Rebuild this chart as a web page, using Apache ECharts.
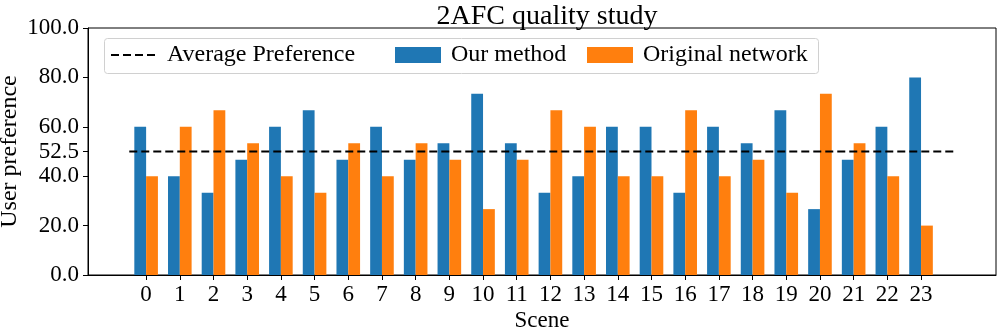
<!DOCTYPE html>
<html>
<head>
<meta charset="utf-8">
<script src="https://cdn.jsdelivr.net/npm/echarts@6/dist/echarts.min.js"></script>
<style>
  html, body { margin: 0; padding: 0; background: #fff; }
  #chart { width: 997px; height: 329px; }
</style>
</head>
<body>
<div id="chart"></div>
<script>
// 15 participants per scene, so shares come in steps of 1/15
const scenes = [0, 1, 2, 3, 4, 5, 6, 7, 8, 9, 10, 11, 12, 13, 14, 15, 16, 17, 18, 19, 20, 21, 22, 23];
const ourMethod = [60, 40, 33.33, 46.67, 60, 66.67, 46.67, 60, 46.67, 53.33, 73.33, 53.33,
  33.33, 40, 60, 60, 33.33, 60, 53.33, 66.67, 26.67, 46.67, 60, 80];
const originalNetwork = [40, 60, 66.67, 53.33, 40, 33.33, 53.33, 40, 53.33, 46.67, 26.67, 46.67,
  66.67, 60, 40, 40, 66.67, 40, 46.67, 33.33, 73.33, 53.33, 40, 20];
// the dashed line and its "52.5" tick sit at 50 in the original plot
const averageLine = 50;
const averageSpan = [-0.5, 24];
const yTicks = [0, 20, 40, 50, 60, 80, 100];
const yTickLabels = ['0.0', '20.0', '40.0', '52.5', '60.0', '80.0', '100.0'];

const font = 'Liberation Serif';
const chart = echarts.init(document.getElementById('chart'));

// matplotlib spaces its legend columns unevenly, so one legend per entry
const legendBase = {
  top: 43,
  padding: 0,
  z: 6,
  itemWidth: 46,
  itemHeight: 16,
  textStyle: { fontFamily: font, fontSize: 24, color: '#000', padding: [0, 0, 0, 5] },
};

chart.setOption({
  animation: false,
  textStyle: { fontFamily: font },
  title: {
    text: '2AFC quality study',
    left: 542,
    textAlign: 'center',
    top: -2,
    textStyle: { fontFamily: font, fontSize: 28, fontWeight: 'normal', color: '#000' },
  },
  graphic: [
    {
      type: 'rect',
      shape: { x: 104.5, y: 38.5, width: 714, height: 35, r: 3 },
      style: { fill: 'rgba(255,255,255,0.8)', stroke: '#d0d0d0', lineWidth: 1 },
      z: 3,
    },
  ],
  legend: [
    Object.assign({}, legendBase, {
      left: 110,
      data: [{ name: 'Average Preference', itemStyle: { opacity: 0 } }],
    }),
    Object.assign({}, legendBase, {
      left: 395,
      data: [{ name: 'Our method', icon: 'rect' }],
    }),
    Object.assign({}, legendBase, {
      left: 587,
      data: [{ name: 'Original network', icon: 'rect' }],
    }),
  ],
  grid: {
    left: 88,
    right: 1,
    top: 28,
    bottom: 54,
    outerBoundsMode: 'none',
    show: true,
    borderColor: '#000',
    borderWidth: 1,
    backgroundColor: 'transparent',
  },
  xAxis: {
    type: 'value',
    min: -1.725,
    max: 25.225,
    name: 'Scene',
    nameLocation: 'middle',
    nameGap: 34,
    nameMoveOverlap: false,
    nameTextStyle: { fontFamily: font, fontSize: 23, color: '#000' },
    axisLine: { show: true, onZero: false, lineStyle: { color: '#000' } },
    axisTick: { show: true, length: 5, customValues: scenes, lineStyle: { color: '#000' } },
    axisLabel: { customValues: scenes, margin: 8, fontFamily: font, fontSize: 23, color: '#000' },
    splitLine: { show: false },
  },
  yAxis: {
    type: 'value',
    min: 0,
    max: 100,
    name: 'User preference',
    nameLocation: 'middle',
    nameGap: 66,
    nameMoveOverlap: false,
    nameTextStyle: { fontFamily: font, fontSize: 24, color: '#000' },
    axisLine: { show: true, onZero: false, lineStyle: { color: '#000' } },
    axisTick: { show: true, length: 5, customValues: yTicks, lineStyle: { color: '#000' } },
    axisLabel: {
      customValues: yTicks,
      margin: 9,
      fontFamily: font,
      fontSize: 23,
      color: '#000',
      formatter: (v) => yTickLabels[yTicks.indexOf(v)],
    },
    splitLine: { show: false },
  },
  series: [
    {
      name: 'Average Preference',
      type: 'line',
      symbol: 'none',
      data: averageSpan.map((x) => [x, averageLine]),
      lineStyle: { color: '#000', width: 2, type: [8, 4] },
      itemStyle: { color: '#000' },
      z: 5,
    },
    {
      name: 'Our method',
      type: 'bar',
      barWidth: 11.8,
      barGap: '0%',
      data: scenes.map((s, i) => [s, ourMethod[i]]),
      itemStyle: { color: '#1f77b4' },
    },
    {
      name: 'Original network',
      type: 'bar',
      barWidth: 11.8,
      barGap: '0%',
      data: scenes.map((s, i) => [s, originalNetwork[i]]),
      itemStyle: { color: '#ff7f0e' },
    },
  ],
});
</script>
</body>
</html>
